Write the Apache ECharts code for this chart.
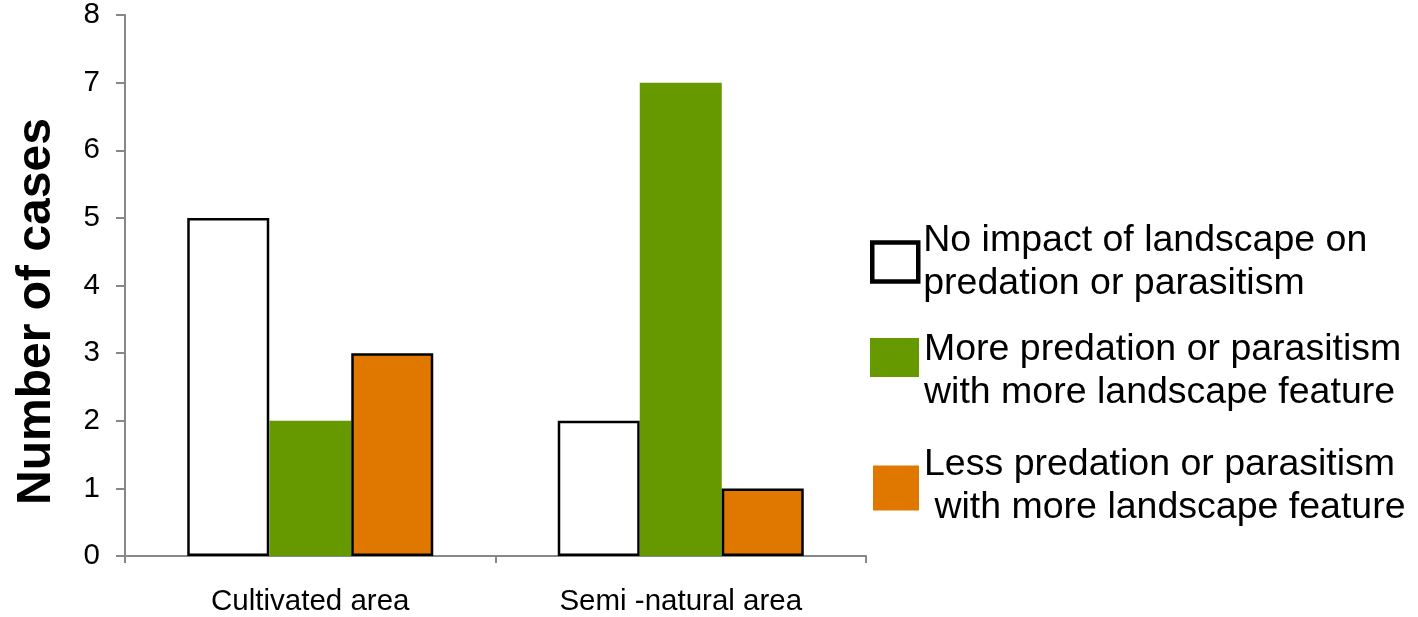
<!DOCTYPE html>
<html>
<head>
<meta charset="utf-8">
<script src="https://cdn.jsdelivr.net/npm/echarts@6/dist/echarts.min.js"></script>
<style>
html,body{margin:0;padding:0;background:#fff;}
#chart{width:1418px;height:617px;}
</style>
</head>
<body>
<div id="chart"></div>
<script>
const categories = ['Cultivated area', 'Semi -natural area'];
const noImpact = [5, 2];
const morePredation = [2, 7];
const lessPredation = [3, 1];
const yTicks = [0, 1, 2, 3, 4, 5, 6, 7, 8];
const seriesNames = [
  'No impact of landscape on\npredation or parasitism',
  'More predation or parasitism\nwith more landscape feature',
  'Less predation or parasitism\n with more landscape feature'
];

const FONT = '"Liberation Sans", Arial, sans-serif';
const AXIS_COLOR = '#888888';
const GREEN = '#669900';
const ORANGE = '#E07800';

const chart = echarts.init(document.getElementById('chart'));
function legendText(topSpace, bottomSpace) {
  return {
    fontFamily: FONT, fontSize: 37.5, color: '#000', lineHeight: 43,
    rich: {
      t: { fontSize: 1, lineHeight: topSpace || 1 },
      b: { fontSize: 1, lineHeight: bottomSpace || 1 }
    }
  };
}
chart.setOption({
  animation: false,
  backgroundColor: '#fff',
  grid: { left: 125, right: 552, top: 13.5, bottom: 60, containLabel: false },
  legend: [
    {
      left: 870, top: 219, padding: 0, orient: 'vertical', itemWidth: 46, itemHeight: 39, itemGap: 0, itemTextGap: 12,
      selectedMode: false,
      data: [{ name: seriesNames[0], icon: 'rect', itemStyle: { color: '#fff', borderColor: '#000', borderWidth: 4.5 } }],
      textStyle: legendText(0, 0)
    },
    {
      left: 870, top: 301, padding: 0, orient: 'vertical', itemWidth: 49, itemHeight: 39, itemGap: 0, itemTextGap: 11,
      selectedMode: false,
      formatter: function (name) { return '{t| }\n' + name; },
      data: [{ name: seriesNames[1], icon: 'rect', itemStyle: { color: GREEN, borderWidth: 0 } }],
      textStyle: legendText(27, 0)
    },
    {
      left: 873, top: 443, padding: 0, orient: 'vertical', itemWidth: 46, itemHeight: 45, itemGap: 0, itemTextGap: 11,
      selectedMode: false,
      formatter: function (name) { return name + '\n{b| }'; },
      data: [{ name: seriesNames[2], icon: 'rect', itemStyle: { color: ORANGE, borderWidth: 0 } }],
      textStyle: legendText(0, 4)
    }
  ],
  xAxis: {
    type: 'category',
    data: categories,
    axisLine: { lineStyle: { color: AXIS_COLOR, width: 2 } },
    axisTick: { show: true, length: 7, interval: 0, lineStyle: { color: AXIS_COLOR, width: 2 } },
    axisLabel: { fontFamily: FONT, fontSize: 29.5, color: '#000', margin: 31, interval: 0 },
    splitLine: { show: false }
  },
  yAxis: {
    type: 'value',
    min: yTicks[0],
    max: yTicks[yTicks.length - 1],
    interval: 1,
    name: 'Number of cases',
    nameLocation: 'middle',
    nameGap: 64,
    nameTextStyle: { fontFamily: FONT, fontSize: 48, fontWeight: 'bold', color: '#000', padding: [0, 52, 0, 0] },
    axisLine: { show: true, lineStyle: { color: AXIS_COLOR, width: 2 } },
    axisTick: { show: true, length: 9, lineStyle: { color: AXIS_COLOR, width: 2 } },
    axisLabel: { fontFamily: FONT, fontSize: 29.5, color: '#000', margin: 25 },
    splitLine: { show: false }
  },
  series: [
    {
      name: seriesNames[0], type: 'bar', data: noImpact,
      barGap: '0%', barCategoryGap: '33.6%',
      itemStyle: { color: '#fff', borderColor: '#000', borderWidth: 2.5 }
    },
    {
      name: seriesNames[1], type: 'bar', data: morePredation,
      itemStyle: { color: GREEN, borderWidth: 0 }
    },
    {
      name: seriesNames[2], type: 'bar', data: lessPredation,
      itemStyle: { color: ORANGE, borderColor: '#000', borderWidth: 2.5 }
    }
  ]
});
</script>
</body>
</html>
